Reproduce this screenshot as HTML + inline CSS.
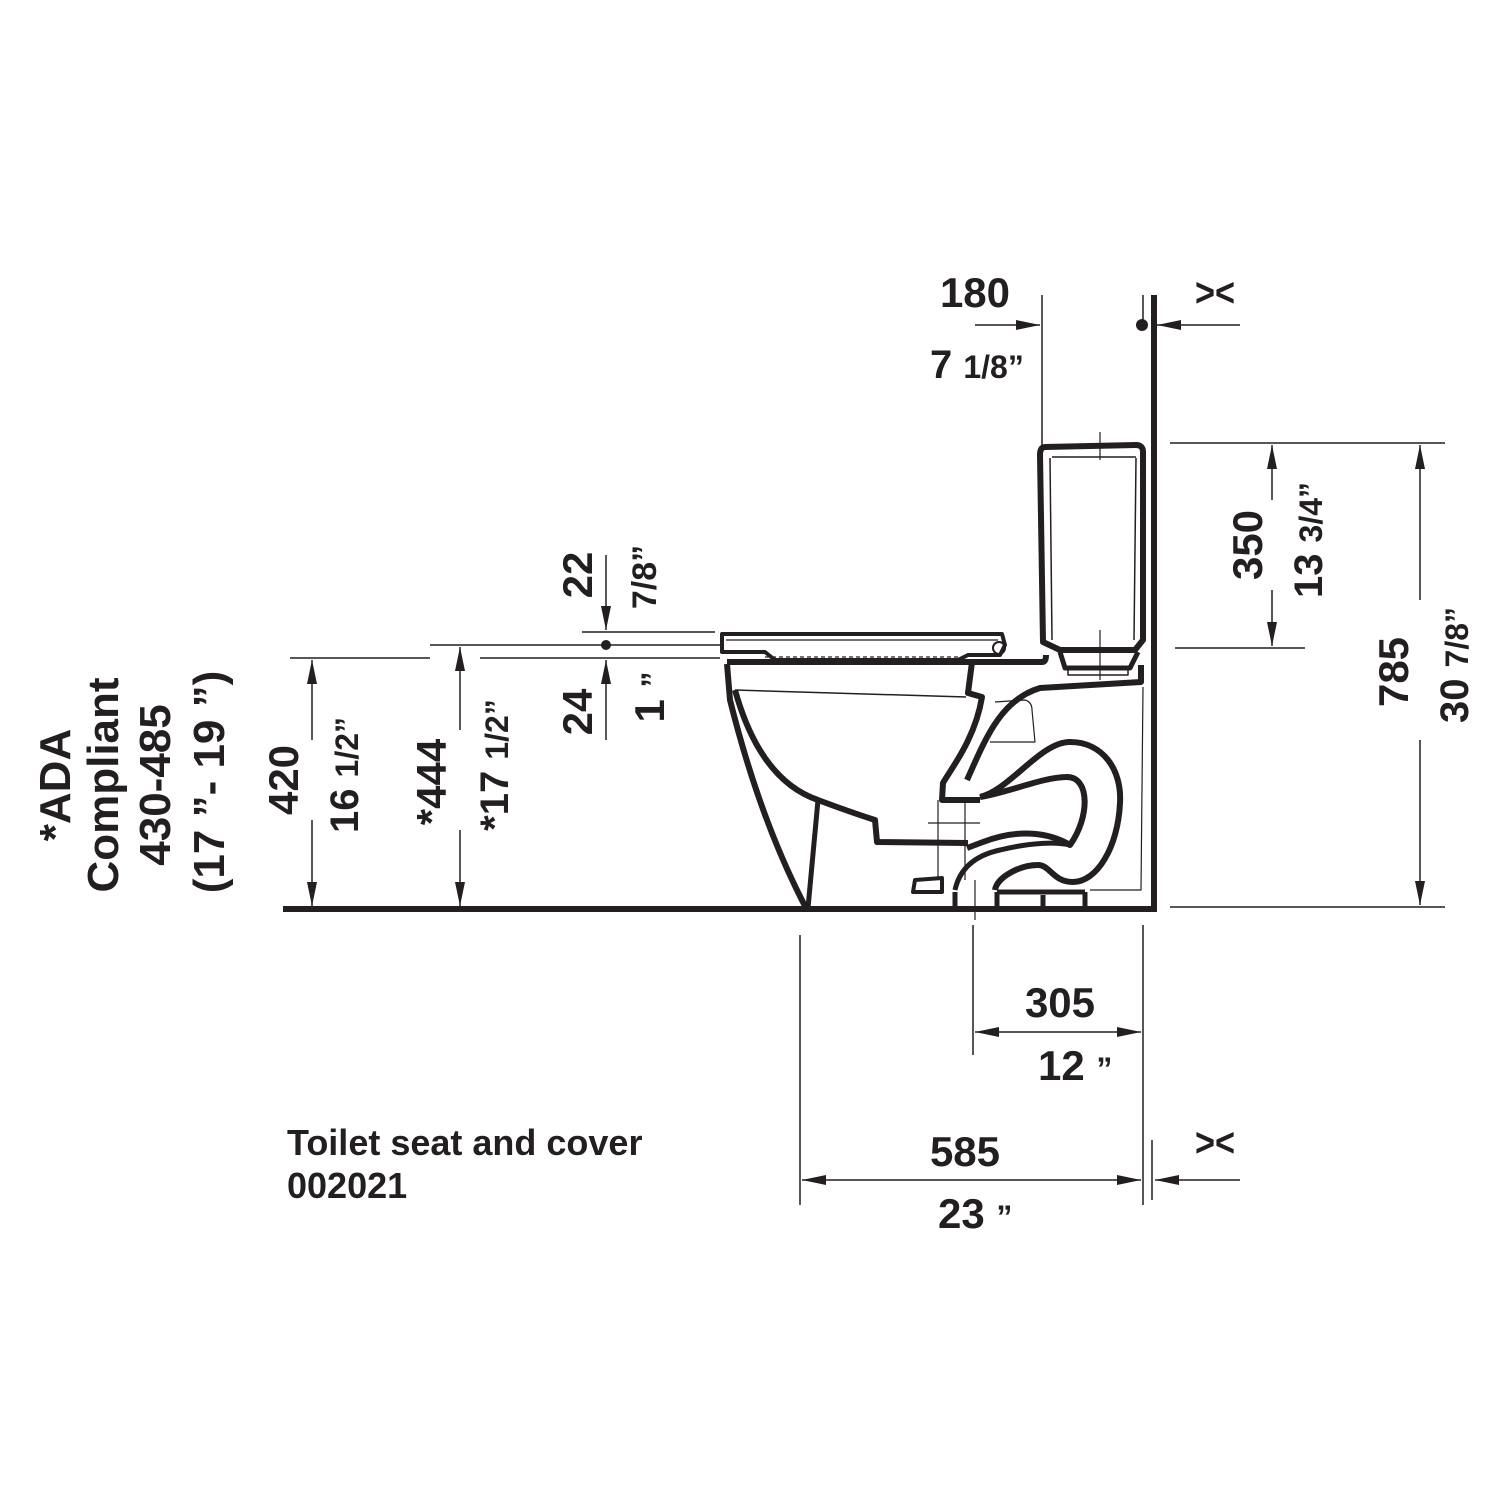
<!DOCTYPE html>
<html><head><meta charset="utf-8"><style>
html,body{margin:0;padding:0;background:#fff;}
svg{display:block;}
text{font-family:"Liberation Sans",sans-serif;font-weight:bold;fill:#231f20;}
</style></head><body>
<svg width="1500" height="1500" viewBox="0 0 1500 1500" xmlns="http://www.w3.org/2000/svg">
<defs>
<marker id="a" viewBox="0 0 24 10" markerWidth="24" markerHeight="10" refX="24" refY="5" orient="auto" markerUnits="userSpaceOnUse"><path d="M0,0 L24,5 L0,10 Z" fill="#231f20"/></marker>
</defs>
<g stroke="#231f20" fill="none" stroke-linejoin="round">
<!-- floor & wall -->
<line x1="283" y1="909" x2="1157" y2="909" stroke-width="6"/>
<line x1="1154" y1="295" x2="1154" y2="912" stroke-width="6"/>
<line x1="1143" y1="295" x2="1143" y2="330" stroke-width="1.5"/>
<!-- tank -->
<path d="M1045,447 Q1040,447 1040,455 L1043,642 L1060,650 L1135,650 L1143,640 L1143,452 Q1143,445 1136,445 Z" stroke-width="6"/>
<path d="M1050,458 L1052,640 M1136,458 L1134,640 M1052,457 L1136,457" stroke-width="1.5"/>
<path d="M1060,652 L1065,668 L1130,668 L1138,652" stroke-width="5"/>
<path d="M1068,668 L1068,675 L1128,675 L1128,668" stroke-width="1.5"/>
<path d="M1100,432 L1100,460 M1090,445 L1110,445 M1100,630 L1100,680" stroke-width="1.2"/>
<!-- seat -->
<path d="M722,634 L1002,634 L1005,645 L1000,655 L968,655 L958,660 L775,660 L765,652 L722,652 Z" stroke-width="4" fill="#fff"/>
<line x1="726" y1="640" x2="998" y2="640" stroke-width="1.2"/>
<line x1="765" y1="657" x2="960" y2="657" stroke-width="1.2" stroke-dasharray="4,3"/>
<circle cx="999" cy="648" r="6" stroke-width="2"/>
<!-- bowl -->
<path d="M727,662 L972,662 L1042,662 Q1046,662 1046,655" stroke-width="6"/>
<path d="M972,662 L968,693 L982,697 C975,740 950,770 943,783 L942,800 L980,800" stroke-width="6"/>
<path d="M967,780 C985,740 1000,700 1040,688 L1141,682 L1141,665" stroke-width="6"/>
<path d="M727,664 L730,700 Q760,820 806,908" stroke-width="6"/>
<path d="M735,690 L966,697" stroke-width="1.5"/>
<path d="M735,690 Q760,780 818,800 Q850,812 875,820 L877,842 L968,843" stroke-width="6"/>
<path d="M818,800 L808,908" stroke-width="5"/>
<!-- trap -->
<path d="M980,797 C1010,790 1040,742 1070,742 C1103,742 1122,770 1120,803 C1118,847 1097,882 1073,882 C1053,882 1050,865 1038,865 C1020,865 997,877 995,890" stroke-width="6"/>
<path d="M980,797 C1007,793 1043,777 1067,777 C1090,777 1090,817 1070,845 C1050,833 1020,828 983,842 L967,848" stroke-width="6"/>
<path d="M955,890 C960,867 977,855 1000,850 C1033,842 1057,842 1070,845" stroke-width="5"/>
<path d="M915,880 L942,878 L942,892 L913,892 Z" stroke-width="4"/>
<path d="M955,892 L955,908 M997,892 L1085,892 M997,892 L997,908 M1085,892 L1085,908 M1043,895 L1043,908" stroke-width="5"/>
<path d="M1143,687 L1141,890 L1090,890" stroke-width="1.2"/>
<path d="M995,702 L1025,700 Q1032,702 1032,710 L1035,742 L990,742" stroke-width="1.2"/>
<path d="M928,823 L980,823 M938,800 L938,880 M965,800 L965,880 M975,880 L975,920" stroke-width="1.2"/>
</g>

<g stroke="#231f20" stroke-width="1.5" fill="none">
<!-- 180 -->
<line x1="1042" y1="295" x2="1042" y2="455"/>
<line x1="975" y1="325" x2="1040" y2="325" marker-end="url(#a)"/>
<line x1="1240" y1="325" x2="1157" y2="325" marker-end="url(#a)"/>
<!-- 350 -->
<line x1="1170" y1="443" x2="1305" y2="443"/>
<line x1="1175" y1="648" x2="1305" y2="648"/>
<line x1="1272" y1="500" x2="1272" y2="445" marker-end="url(#a)"/>
<line x1="1272" y1="590" x2="1272" y2="646" marker-end="url(#a)"/>
<!-- 785 -->
<line x1="1305" y1="443" x2="1445" y2="443"/>
<line x1="1170" y1="907" x2="1445" y2="907"/>
<line x1="1420" y1="600" x2="1420" y2="445" marker-end="url(#a)"/>
<line x1="1420" y1="740" x2="1420" y2="905" marker-end="url(#a)"/>
<!-- 420 -->
<line x1="290" y1="658" x2="430" y2="658"/>
<line x1="312" y1="740" x2="312" y2="660" marker-end="url(#a)"/>
<line x1="312" y1="820" x2="312" y2="906" marker-end="url(#a)"/>
<!-- 444 -->
<line x1="430" y1="645" x2="720" y2="645"/>
<line x1="480" y1="658" x2="720" y2="658"/>
<line x1="460" y1="730" x2="460" y2="647" marker-end="url(#a)"/>
<line x1="460" y1="830" x2="460" y2="906" marker-end="url(#a)"/>
<!-- 22/24 -->
<line x1="582" y1="632" x2="715" y2="632"/>
<line x1="606" y1="555" x2="606" y2="630" marker-end="url(#a)"/>
<line x1="606" y1="740" x2="606" y2="660" marker-end="url(#a)"/>
<!-- bottom -->
<line x1="800" y1="935" x2="800" y2="1205"/>
<line x1="973" y1="925" x2="973" y2="1055"/>
<line x1="1143" y1="925" x2="1143" y2="1205"/>
<line x1="1152" y1="1140" x2="1152" y2="1200"/>
<line x1="1060" y1="1032" x2="975" y2="1032" marker-end="url(#a)"/>
<line x1="1060" y1="1032" x2="1141" y2="1032" marker-end="url(#a)"/>
<line x1="970" y1="1180" x2="802" y2="1180" marker-end="url(#a)"/>
<line x1="970" y1="1180" x2="1141" y2="1180" marker-end="url(#a)"/>
<line x1="1240" y1="1180" x2="1155" y2="1180" marker-end="url(#a)"/>
</g>
<circle cx="1142" cy="325" r="6" fill="#231f20"/>
<circle cx="606" cy="645" r="5" fill="#231f20"/>

<g font-size="42">
<text x="1195" y="306" font-size="40" textLength="40" lengthAdjust="spacingAndGlyphs">&gt;&lt;</text>
<text x="1195" y="1156" font-size="40" textLength="40" lengthAdjust="spacingAndGlyphs">&gt;&lt;</text>
<text x="975" y="307" text-anchor="middle">180</text>
<text x="930" y="378" font-size="40">7 <tspan font-size="32">1/8”</tspan></text>
<text x="1060" y="1017" text-anchor="middle">305</text>
<text x="1038" y="1080">12 <tspan font-size="32">”</tspan></text>
<text x="965" y="1166" text-anchor="middle">585</text>
<text x="938" y="1228">23 <tspan font-size="32">”</tspan></text>
<text transform="translate(1262,545) rotate(-90)" text-anchor="middle">350</text>
<text transform="translate(1322,540) rotate(-90)" text-anchor="middle" font-size="40">13 <tspan font-size="32">3/4”</tspan></text>
<text transform="translate(1408,672) rotate(-90)" text-anchor="middle">785</text>
<text transform="translate(1468,665) rotate(-90)" text-anchor="middle" font-size="40">30 <tspan font-size="32">7/8”</tspan></text>
<text transform="translate(298,780) rotate(-90)" text-anchor="middle">420</text>
<text transform="translate(358,775) rotate(-90)" text-anchor="middle" font-size="40">16 <tspan font-size="32">1/2”</tspan></text>
<text transform="translate(446,782) rotate(-90)" text-anchor="middle">*444</text>
<text transform="translate(508,765) rotate(-90)" text-anchor="middle" font-size="40">*17 <tspan font-size="32">1/2”</tspan></text>
<text transform="translate(592,575) rotate(-90)" text-anchor="middle">22</text>
<text transform="translate(656,577) rotate(-90)" text-anchor="middle" font-size="34">7/8”</text>
<text transform="translate(592,712) rotate(-90)" text-anchor="middle">24</text>
<text transform="translate(664,697) rotate(-90)" text-anchor="middle">1 <tspan font-size="32">”</tspan></text>
<text transform="translate(70,785) rotate(-90)" text-anchor="middle" font-size="44">*ADA</text>
<text transform="translate(118,785) rotate(-90)" text-anchor="middle" font-size="44">Compliant</text>
<text transform="translate(170,785) rotate(-90)" text-anchor="middle" font-size="44">430-485</text>
<text transform="translate(224,782) rotate(-90)" text-anchor="middle" font-size="44">(17 ”- 19 ”)</text>
<text x="287" y="1155" font-size="36">Toilet seat and cover</text>
<text x="287" y="1198" font-size="36">002021</text>
</g>
</svg>
</body></html>
